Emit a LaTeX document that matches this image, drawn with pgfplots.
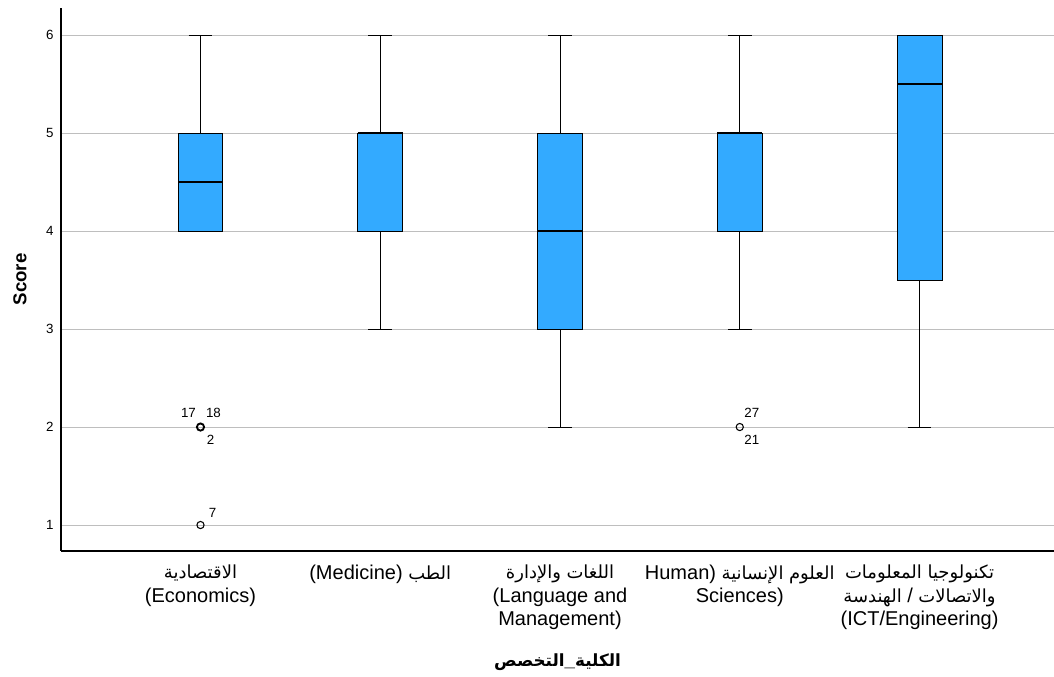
\documentclass[border=0pt]{standalone}
\usepackage{pgfplots}
\pgfplotsset{compat=1.18}
\usepgfplotslibrary{statistics}
\usepackage{fontspec}
\setmainfont{Liberation Sans}
\newfontfamily\ar[Script=Arabic,Scale=0.9]{DejaVu Sans}
\definecolor{boxblue}{RGB}{51,170,255}
\definecolor{gridgray}{RGB}{190,190,190}
\newcommand{\AR}[1]{{\ar #1}}
\begin{document}
\begin{tikzpicture}
\begin{axis}[
  scale only axis,
  width=744.75pt, height=407.25pt,
  xmin=-0.776, xmax=4.748, ymin=0.735, ymax=6.276,
  axis lines=left,
  axis line style={-, black, line width=0.9pt},
  xtick={0,1,2,3,4},
  xticklabels={
    {\AR{الاقتصادية}\\(Economics)},
    {(Medicine) \AR{الطب}},
    {\AR{والإدارة} \AR{اللغات}\\(Language and\\Management)},
    {Human) \AR{الإنسانية} \AR{العلوم}\\Sciences)},
    {\AR{المعلومات} \AR{تكنولوجيا}\\\AR{الهندسة} / \AR{والاتصالات}\\(ICT/Engineering)}
  },
  ytick={1,2,3,4,5,6},
  /pgf/number format/assume math mode=true,
  ymajorgrids,
  grid style={gridgray, line width=0.75pt},
  major tick length=0pt,
  yticklabel style={font=\fontsize{10}{12}\selectfont, xshift=-2pt},
  xticklabel style={align=center, font=\fontsize{15}{17.5}\selectfont, anchor=north, yshift=-7pt},
  ylabel={Score},
  ylabel style={font=\fontsize{14}{16}\selectfont\bfseries, at={(axis description cs:-0.0413,0.5)}, anchor=center},
  xlabel={{\ar\bfseries التخصص}\textbf{\_}{\ar\bfseries الكلية}},
  xlabel style={font=\fontsize{14}{16}\selectfont, at={(axis description cs:0.5,-0.2044)}, anchor=center},
  boxplot/draw direction=y,
  boxplot/box extend=0.25,
  boxplot/whisker extend=0.133,
  boxplot/every box/.style={draw=black, fill=boxblue, line width=0.75pt},
  boxplot/every median/.style={draw=black, line width=1.6pt},
  boxplot/every whisker/.style={draw=black, line width=0.75pt},
  clip=false,
]
\addplot[draw=black, boxplot prepared={draw position=0, lower whisker=4, lower quartile=4, median=4.5, upper quartile=5, upper whisker=6}] coordinates {};
\addplot[draw=black, boxplot prepared={draw position=1, lower whisker=3, lower quartile=4, median=5, upper quartile=5, upper whisker=6}] coordinates {};
\addplot[draw=black, boxplot prepared={draw position=2, lower whisker=2, lower quartile=3, median=4, upper quartile=5, upper whisker=6}] coordinates {};
\addplot[draw=black, boxplot prepared={draw position=3, lower whisker=3, lower quartile=4, median=5, upper quartile=5, upper whisker=6}] coordinates {};
\addplot[draw=black, boxplot prepared={draw position=4, lower whisker=2, lower quartile=3.5, median=5.5, upper quartile=6, upper whisker=6}] coordinates {};
% outliers
\addplot[only marks, mark=o, mark size=2.7pt, mark options={draw=black, fill=white, line width=1.4pt}] coordinates {(0,2)};
\addplot[only marks, mark=o, mark size=2.7pt, mark options={draw=black, fill=white, line width=0.8pt}] coordinates {(0,1) (3,2)};
\node[font=\fontsize{10}{12}\selectfont] at (axis cs:-0.067,2.143) {17};
\node[font=\fontsize{10}{12}\selectfont] at (axis cs:0.072,2.143) {18};
\node[font=\fontsize{10}{12}\selectfont] at (axis cs:0.056,1.867) {2};
\node[font=\fontsize{10}{12}\selectfont] at (axis cs:0.067,1.122) {7};
\node[font=\fontsize{10}{12}\selectfont] at (axis cs:3.067,2.143) {27};
\node[font=\fontsize{10}{12}\selectfont] at (axis cs:3.067,1.867) {21};
\end{axis}
\pgfresetboundingbox
\path ([shift={(-45.75pt,-94.5pt)}]current axis.south west) rectangle ([shift={(0pt,6pt)}]current axis.north east);
\end{tikzpicture}
\end{document}
